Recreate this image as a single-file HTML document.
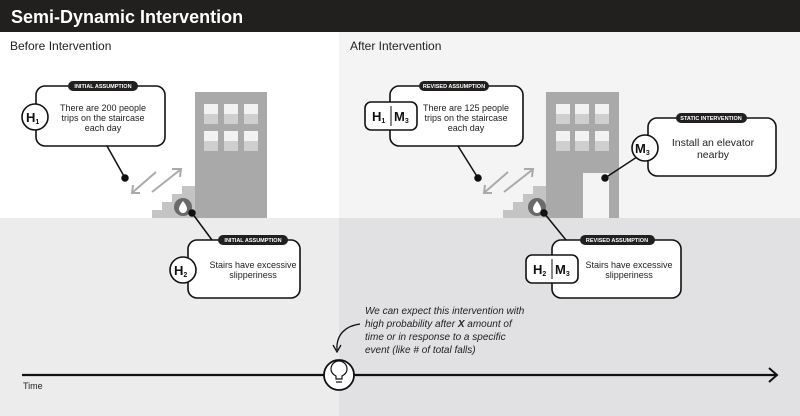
<!DOCTYPE html>
<html><head><meta charset="utf-8"><style>
html,body{margin:0;padding:0;width:800px;height:416px;overflow:hidden}
svg{display:block}
text{font-family:"Liberation Sans",sans-serif}
</style></head><body>
<svg width="800" height="416" viewBox="0 0 800 416" xmlns="http://www.w3.org/2000/svg">
<rect width="800" height="416" fill="#ececec"/>
<rect x="0" y="32" width="339" height="186" fill="#ffffff"/>
<rect x="339" y="32" width="461" height="186" fill="#f4f4f4"/>
<rect x="339" y="218" width="461" height="198" fill="#e1e1e3"/>
<rect x="0" y="0" width="800" height="32" fill="#221f1f"/>
<text x="11" y="23" fill="#fff" font-size="18" font-weight="bold">Semi-Dynamic Intervention</text>
<text x="10" y="50" fill="#222" font-size="12">Before Intervention</text>
<text x="350" y="50" fill="#222" font-size="12">After Intervention</text>

<!-- LEFT building -->
<g>
<rect x="195" y="92" width="72" height="126" fill="#a9a9a9"/>
<g fill="#f2f2f2">
<rect x="204" y="104" width="14" height="10"/><rect x="224" y="104" width="14" height="10"/><rect x="244" y="104" width="14" height="10"/>
<rect x="204" y="131" width="14" height="10"/><rect x="224" y="131" width="14" height="10"/><rect x="244" y="131" width="14" height="10"/>
</g>
<g fill="#cfcfcf">
<rect x="204" y="114" width="14" height="10"/><rect x="224" y="114" width="14" height="10"/><rect x="244" y="114" width="14" height="10"/>
<rect x="204" y="141" width="14" height="10"/><rect x="224" y="141" width="14" height="10"/><rect x="244" y="141" width="14" height="10"/>
</g>
<path d="M152,218 V210 H162 V202 H172 V194 H182 V186 H195 V218 Z" fill="#c4c4c4"/>
<g stroke="#aaa" stroke-width="2" fill="none">
<line x1="156" y1="172" x2="133" y2="192"/><path d="M133,185 L132,193 L140,193"/>
<line x1="152" y1="192" x2="180" y2="170"/><path d="M172,169 L181,169 L180,177"/>
</g>
<circle cx="183" cy="207" r="9" fill="#6a6a6a"/>
<path d="M183,201 C180,205 179,207 179,209 a4,4 0 0 0 8,0 c0,-2 -1,-4 -4,-8z" fill="#fff"/>
</g>

<!-- RIGHT building -->
<g>
<rect x="546" y="92" width="73" height="126" fill="#a9a9a9"/>
<rect x="583" y="173" width="26" height="45" fill="#f4f4f4"/>
<g fill="#f2f2f2">
<rect x="556" y="104" width="14" height="10"/><rect x="575" y="104" width="14" height="10"/><rect x="595" y="104" width="14" height="10"/>
<rect x="556" y="131" width="14" height="10"/><rect x="575" y="131" width="14" height="10"/><rect x="595" y="131" width="14" height="10"/>
</g>
<g fill="#cfcfcf">
<rect x="556" y="114" width="14" height="10"/><rect x="575" y="114" width="14" height="10"/><rect x="595" y="114" width="14" height="10"/>
<rect x="556" y="141" width="14" height="10"/><rect x="575" y="141" width="14" height="10"/><rect x="595" y="141" width="14" height="10"/>
</g>
<path d="M503,218 V210 H513 V202 H523 V194 H533 V186 H546 V218 Z" fill="#c4c4c4"/>
<g stroke="#aaa" stroke-width="2" fill="none">
<line x1="508" y1="172" x2="485" y2="192"/><path d="M485,185 L484,193 L492,193"/>
<line x1="504" y1="192" x2="532" y2="170"/><path d="M524,169 L533,169 L532,177"/>
</g>
<circle cx="537" cy="207" r="9" fill="#6a6a6a"/>
<path d="M537,201 C534,205 533,207 533,209 a4,4 0 0 0 8,0 c0,-2 -1,-4 -4,-8z" fill="#fff"/>
</g>

<!-- connectors -->
<g stroke="#111" stroke-width="1.5" fill="#111">
<line x1="107" y1="146" x2="125" y2="178"/><circle cx="125" cy="178" r="3"/>
<line x1="192" y1="213" x2="212" y2="240"/><circle cx="192" cy="213" r="3"/>
<line x1="458" y1="146" x2="478" y2="178"/><circle cx="478" cy="178" r="3"/>
<line x1="544" y1="213" x2="566" y2="240"/><circle cx="544" cy="213" r="3"/>
<line x1="605" y1="178" x2="640" y2="155"/><circle cx="605" cy="178" r="3"/>
</g>

<!-- boxes -->
<g stroke="#111" stroke-width="1.6" fill="#fff">
<rect x="36" y="86" width="129" height="60" rx="9"/>
<rect x="188" y="240" width="112" height="58" rx="9"/>
<rect x="390" y="86" width="133" height="60" rx="9"/>
<rect x="648" y="118" width="128" height="58" rx="9"/>
<rect x="552" y="240" width="129" height="58" rx="9"/>
<circle cx="35" cy="117" r="13"/>
<circle cx="183" cy="270" r="13"/>
<circle cx="645" cy="148" r="13"/>
<rect x="365" y="102" width="52" height="28" rx="6"/>
<rect x="526" y="255" width="52" height="28" rx="6"/>
</g>
<g stroke="#111" stroke-width="1">
<line x1="391" y1="106" x2="391" y2="126"/>
<line x1="552" y1="259" x2="552" y2="279"/>
</g>
<!-- pills -->
<g fill="#221f1f">
<rect x="68" y="81" width="70" height="10" rx="5"/>
<rect x="218" y="235" width="70" height="10" rx="5"/>
<rect x="419" y="81" width="70" height="10" rx="5"/>
<rect x="676" y="113" width="71" height="10" rx="5"/>
<rect x="580" y="235" width="75" height="10" rx="5"/>
</g>
<g fill="#fff" font-size="5.5" font-weight="bold" text-anchor="middle">
<text x="103" y="88">INITIAL ASSUMPTION</text>
<text x="253" y="242">INITIAL ASSUMPTION</text>
<text x="454" y="88">REVISED ASSUMPTION</text>
<text x="711" y="120">STATIC INTERVENTION</text>
<text x="617" y="242">REVISED ASSUMPTION</text>
</g>
<g fill="#222" font-size="9" text-anchor="middle">
<text x="103" y="111">There are 200 people</text>
<text x="103" y="121">trips on the staircase</text>
<text x="103" y="131">each day</text>
<text x="253" y="268">Stairs have excessive</text>
<text x="253" y="278">slipperiness</text>
<text x="466" y="111">There are 125 people</text>
<text x="466" y="121">trips on the staircase</text>
<text x="466" y="131">each day</text>
<text x="629" y="268">Stairs have excessive</text>
<text x="629" y="278">slipperiness</text>
</g>
<g fill="#222" font-size="10.5" text-anchor="middle">
<text x="713" y="146">Install an elevator</text>
<text x="713" y="158">nearby</text>
</g>
<g fill="#111" font-size="13" font-weight="bold">
<text x="26" y="122">H<tspan font-size="7" dy="2">1</tspan></text>
<text x="174" y="275">H<tspan font-size="7" dy="2">2</tspan></text>
<text x="635" y="153">M<tspan font-size="7" dy="2">3</tspan></text>
<text x="372" y="121">H<tspan font-size="7" dy="2">1</tspan></text>
<text x="394" y="121">M<tspan font-size="7" dy="2">3</tspan></text>
<text x="533" y="274">H<tspan font-size="7" dy="2">2</tspan></text>
<text x="555" y="274">M<tspan font-size="7" dy="2">3</tspan></text>
</g>

<!-- timeline -->
<line x1="22" y1="375" x2="776" y2="375" stroke="#111" stroke-width="2.2"/>
<path d="M769,368 L777,375 L769,382" fill="none" stroke="#111" stroke-width="2"/>
<text x="23" y="389" font-size="9" fill="#222">Time</text>
<circle cx="339" cy="375" r="15" fill="#fff" stroke="#111" stroke-width="1.8"/>
<path d="M336,379 V376 C332,374 331,371 331,369 a8,8 0 0 1 16,0 c0,2 -1,5 -5,7 V379 Z" fill="none" stroke="#111" stroke-width="1.2"/>
<line x1="336" y1="382" x2="342" y2="382" stroke="#111" stroke-width="1.2"/>
<path d="M360,324 C345,326 336,335 337,350" fill="none" stroke="#111" stroke-width="1.3"/>
<path d="M333,345 L337,352 L341,345" fill="none" stroke="#111" stroke-width="1.3"/>
<g font-size="10" font-style="italic" fill="#222">
<text x="365" y="314">We can expect this intervention with</text>
<text x="365" y="327">high probability after <tspan font-weight="bold">X</tspan> amount of</text>
<text x="365" y="340">time or in response to a specific</text>
<text x="365" y="353">event (like # of total falls)</text>
</g>
</svg>
</body></html>
